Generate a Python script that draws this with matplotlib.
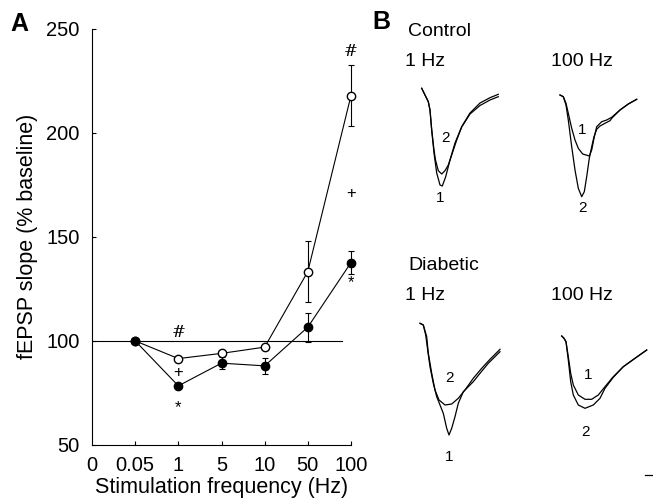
import numpy as np
import matplotlib.pyplot as plt

plt.rcParams['font.family'] = ['Liberation Sans', 'DejaVu Sans']

# Panel A data
freq_labels = ['0', '0.05', '1', '5', '10', '50', '100']
control_mean = [100, 91.5, 94, 97, 133.3, 217.8]
control_err = [0, 0, 0, 0, 14.5, 14.5]
diabetic_mean = [100, 78.4, 89.3, 88, 106.6, 137.6]
diabetic_err = [0, 0, 3, 4, 7, 5.5]
baseline = 100

# significance marks: (x index, y value, symbol)
marks_x = [2, 2, 2, 6, 6, 6]
marks_y = [104, 85, 68, 239, 171, 128]
marks_s = ['#', '+', '*', '#', '+', '*']

# Panel B traces (x, y in figure pixels)
c1_t1 = [421.7, 428.3, 430, 431.7, 434, 436.7, 440, 442.3, 445.7, 450, 455, 461.7, 470, 480, 490, 498.3]
c1_v1 = [88.3, 101.7, 110, 130, 153, 173, 185, 186, 176.7, 160, 143, 126.7, 113, 103, 97.7, 94.3]
c1_t2 = [421.7, 428.3, 430, 431.7, 434, 435.5, 438.3, 441.7, 445, 448.3, 451.7, 456.7, 461.7, 470, 480, 490, 498.3]
c1_v2 = [88.3, 101.7, 110, 130, 150, 160, 170.7, 174, 170.7, 165, 155, 140, 127, 114, 105.5, 100, 96.7]

c100_t1 = [560, 563.3, 566, 568.3, 571.7, 575, 578.3, 582.7, 589.3, 591.7, 594, 596.7, 601.7, 606.7, 611.7, 620, 628.3, 636.7]
c100_v1 = [95, 96.7, 103.3, 113.3, 128.3, 140, 148.3, 154, 156, 150, 138.3, 126.7, 121.7, 120, 117.3, 110, 104, 99.3]
c100_t2 = [560, 563.3, 566, 568.3, 571.7, 575, 578.3, 581.7, 584.3, 586.7, 589.3, 591.7, 594, 596.7, 600, 605, 610, 611.7, 620, 628.3, 636.7]
c100_v2 = [95, 96.7, 105, 120, 146.7, 170, 188.3, 196.7, 191.7, 176.7, 158.3, 146.7, 136.7, 129.3, 126, 123.3, 120.7, 118.3, 110, 104, 99.3]

d1_t1 = [420, 423.3, 425.7, 427.7, 430, 433.3, 436.7, 440, 443.3, 446.7, 449, 451.7, 455, 458.3, 463.3, 470, 473.3, 480, 488.3, 500]
d1_v1 = [323.3, 325, 335, 350, 366.7, 383.3, 396.7, 405, 413.3, 428.3, 435, 428.3, 416.7, 403.3, 391.7, 385, 381.7, 373.3, 363.3, 351.7]
d1_t2 = [420, 423.3, 426.7, 428.3, 431.7, 435, 439, 445, 451.7, 458.3, 465, 473.3, 481.7, 490, 500]
d1_v2 = [323.3, 325, 336.7, 353.3, 373.3, 390, 400, 405, 404, 398.3, 390, 378.3, 368.3, 359.3, 349.3]

d100_t1 = [561.7, 564, 566, 568.3, 570.7, 573.3, 578.3, 585, 591.7, 598.3, 605, 613.3, 623.3, 635, 646.7]
d100_v1 = [336, 338.3, 341.7, 356.7, 373.3, 385, 395, 399.3, 399.3, 395, 386.7, 376.7, 366.7, 358.3, 350]
d100_t2 = [561.7, 564, 566, 568.3, 570.7, 573.3, 578.3, 585, 593.3, 600, 605, 613.3, 623.3, 635, 646.7]
d100_v2 = [336, 338.3, 341.7, 360, 381.7, 395, 405, 408.3, 405, 398.3, 388.3, 377.3, 366.7, 358.3, 350]

fig = plt.figure(figsize=(6.53, 5.04), dpi=100)

# ---- Panel A ----
ax = fig.add_axes([92 / 653, 59 / 504, 259 / 653, 416.5 / 504])
x = np.arange(1, len(control_mean) + 1)

ax.plot([0, 5.8], [baseline, baseline], color='black', lw=0.8)
for mean, err, face in [(control_mean, control_err, 'white'), (diabetic_mean, diabetic_err, 'black')]:
    lines = ax.errorbar(x, mean, yerr=err, fmt='-o', color='black', mfc=face, mec='black',
                        ms=6, lw=0.8, elinewidth=0.8, capsize=2.5, capthick=0.8, zorder=3)
    for art in lines.lines[0:1] + tuple(lines.lines[1]) + tuple(lines.lines[2]):
        art.set_clip_on(False)

for mx, my, ms in zip(marks_x, marks_y, marks_s):
    ax.text(mx, my, ms, ha='center', va='center', fontsize=12 if ms != '*' else 12,
            family='DejaVu Serif' if ms == '#' else None)

ax.set_xlim(0, 6)
ax.set_ylim(50, 250)
ax.set_xticks(range(len(freq_labels)))
ax.set_xticklabels(freq_labels)
ax.set_yticks([50, 100, 150, 200, 250])
ax.tick_params(direction='in', length=3, width=0.8, labelsize=14.5)
ax.tick_params(axis='y', pad=9)
ax.tick_params(axis='x', pad=8)
ax.xaxis.get_major_ticks()[0].tick1line.set_visible(False)
for s in ['top', 'right']:
    ax.spines[s].set_visible(False)
ax.spines['left'].set_linewidth(0.8)
ax.spines['bottom'].set_linewidth(0.8)
ax.set_xlabel('Stimulation frequency (Hz)', fontsize=15.5, labelpad=1)
ax.set_ylabel('fEPSP slope (% baseline)', fontsize=15.5, labelpad=6)

fig.text(10 / 653, 1 - 24 / 504, 'A', fontsize=18, fontweight='bold', va='center')

# ---- Panel B ----
bx = fig.add_axes([0, 0, 1, 1], facecolor='none')
bx.set_xlim(0, 653)
bx.set_ylim(504, 0)
bx.axis('off')

for t, v in [(c1_t1, c1_v1), (c1_t2, c1_v2), (c100_t1, c100_v1), (c100_t2, c100_v2),
             (d1_t1, d1_v1), (d1_t2, d1_v2), (d100_t1, d100_v1), (d100_t2, d100_v2)]:
    bx.plot(t, v, color='black', lw=0.9)

bx.plot([645, 652], [475, 475], color='black', lw=0.9)

fig.text(372 / 653, 1 - 22 / 504, 'B', fontsize=18, fontweight='bold', va='center')
bx.text(408, 31, 'Control', fontsize=14, va='center')
bx.text(405, 62, '1 Hz', fontsize=14, va='center')
bx.text(551, 62, '100 Hz', fontsize=14, va='center')
bx.text(408, 265, 'Diabetic', fontsize=14, va='center')
bx.text(405, 295, '1 Hz', fontsize=14, va='center')
bx.text(551, 295, '100 Hz', fontsize=14, va='center')

for tx, ty, s in [(445, 138, '2'), (440, 198, '1'), (581.7, 130, '1'), (582.7, 208, '2'),
                  (450, 378, '2'), (449, 457, '1'), (588.3, 375, '1'), (585, 432, '2')]:
    bx.text(tx, ty, s, fontsize=11, ha='center', va='center')

fig.savefig('out.png', dpi=100)
